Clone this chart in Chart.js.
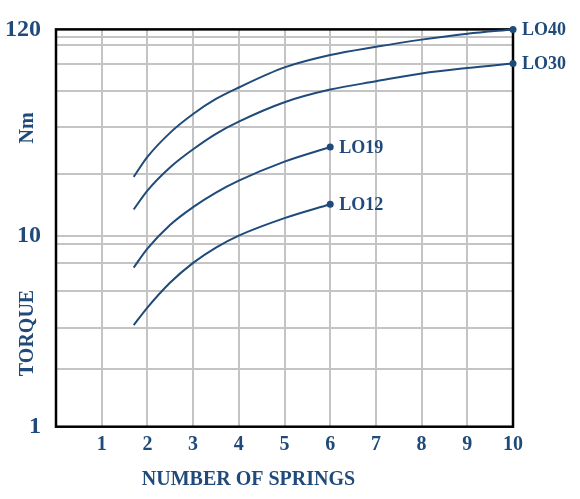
<!DOCTYPE html>
<html>
<head>
<meta charset="utf-8">
<script src="https://cdn.jsdelivr.net/npm/chart.js@4.4.1/dist/chart.umd.min.js"></script>
<style>
  html, body { margin: 0; padding: 0; background: #ffffff; }
  #wrap { width: 580px; height: 499px; position: relative; }
</style>
</head>
<body>
<div id="wrap"><canvas id="c"></canvas></div>
<script>
// ---- data ----
const seriesNames = ['LO40', 'LO30', 'LO19', 'LO12'];
const springsLong = [1.7, 2, 2.5, 3, 3.5, 4, 5, 6, 7, 8, 9, 10];
const springsShort = [1.7, 2, 2.5, 3, 3.5, 4, 5, 6];
const torqueLO40 = [20.3, 25.8, 34.6, 43.3, 51.9, 59.6, 75.9, 88.1, 97.3, 106.1, 113.9, 120];
const torqueLO30 = [13.7, 17.2, 22.8, 28.3, 34.1, 39.5, 49.9, 58.1, 64.2, 70.6, 75.4, 79.6];
const torqueLO19 = [6.8, 8.54, 11.4, 14.1, 16.8, 19.4, 24.4, 29.1];
const torqueLO12 = [3.4, 4.2, 5.68, 7.2, 8.66, 10.0, 12.35, 14.6];
const xTickLabels = ['1', '2', '3', '4', '5', '6', '7', '8', '9', '10'];
const yGridValues = [1, 2, 3.3, 5.1, 7.2, 9, 10, 21, 37, 57, 79, 100, 110, 120];
const yTickLabels = ['1', '10', '120'];
const xTitle = 'NUMBER OF SPRINGS';
const yTitle = 'TORQUE';
const yUnit = 'Nm';

const INK = '#1f4a7a';
const SERIF = '"Liberation Serif", "DejaVu Serif", serif';

function pts(xs, ys) { return xs.map((x, i) => ({ x: x, y: ys[i] })); }
const seriesData = [
  pts(springsLong, torqueLO40),
  pts(springsLong, torqueLO30),
  pts(springsShort, torqueLO19),
  pts(springsShort, torqueLO12)
];

const datasets = seriesNames.map((name, i) => ({
  label: name,
  data: seriesData[i],
  borderColor: INK,
  backgroundColor: INK,
  borderWidth: 2,
  fill: false,
  cubicInterpolationMode: 'monotone',
  pointRadius: ctx => ctx.dataIndex === seriesData[i].length - 1 ? 3.5 : 0,
  pointHoverRadius: 0,
  pointBorderWidth: 0,
  clip: false
}));

const decorPlugin = {
  id: 'decor',
  beforeDatasetsDraw(chart) {
    const { ctx, chartArea: a } = chart;
    ctx.save();
    ctx.strokeStyle = '#000';
    ctx.lineWidth = 2.5;
    ctx.strokeRect(a.left, a.top, a.right - a.left, a.bottom - a.top);
    ctx.restore();
  },
  afterDatasetsDraw(chart) {
    const { ctx, chartArea: a } = chart;
    ctx.save();
    ctx.fillStyle = INK;
    ctx.font = 'bold 18px ' + SERIF;
    ctx.textAlign = 'left';
    ctx.textBaseline = 'middle';
    chart.data.datasets.forEach((ds, i) => {
      const meta = chart.getDatasetMeta(i);
      const last = meta.data[meta.data.length - 1];
      ctx.fillText(ds.label, last.x + 9, last.y + 1);
    });
    // x title
    ctx.font = 'bold 20px ' + SERIF;
    ctx.textAlign = 'center';
    ctx.fillText(xTitle, (a.left + a.right) / 2 - 36, 480);
    // y titles (rotated)
    ctx.save();
    ctx.translate(28, 333);
    ctx.rotate(-Math.PI / 2);
    ctx.fillText(yTitle, 0, 0);
    ctx.restore();
    ctx.save();
    ctx.translate(28, 128);
    ctx.rotate(-Math.PI / 2);
    ctx.fillText(yUnit, 0, 0);
    ctx.restore();
    ctx.restore();
  }
};

new Chart(document.getElementById('c'), {
  type: 'line',
  data: { datasets: datasets },
  options: {
    responsive: true,
    maintainAspectRatio: false,
    animation: false,
    events: [],
    layout: { padding: { left: 0, top: 25, right: 67, bottom: 0 } },
    plugins: { legend: { display: false }, tooltip: { enabled: false } },
    scales: {
      x: {
        type: 'linear',
        min: 0,
        max: 10,
        afterFit(scale) { scale.height = 72.3; },
        grid: { color: '#c4c4c4', lineWidth: 2, drawTicks: false },
        border: { display: false },
        ticks: {
          stepSize: 1,
          padding: 6,
          color: INK,
          font: { family: SERIF, size: 20, weight: 'bold' },
          callback: v => xTickLabels.includes(String(v)) ? String(v) : ''
        }
      },
      y: {
        type: 'logarithmic',
        min: 1,
        max: 120,
        afterFit(scale) { scale.width = 56; },
        afterBuildTicks(scale) {
          scale.ticks = yGridValues.map(v => ({ value: v }));
        },
        grid: { color: '#c4c4c4', lineWidth: 2, drawTicks: false },
        border: { display: false },
        ticks: {
          padding: 15,
          color: INK,
          autoSkip: false,
          font: { family: SERIF, size: 24, weight: 'bold' },
          callback: v => yTickLabels.includes(String(v)) ? String(v) : ''
        }
      }
    }
  },
  plugins: [decorPlugin]
});
</script>
</body>
</html>
